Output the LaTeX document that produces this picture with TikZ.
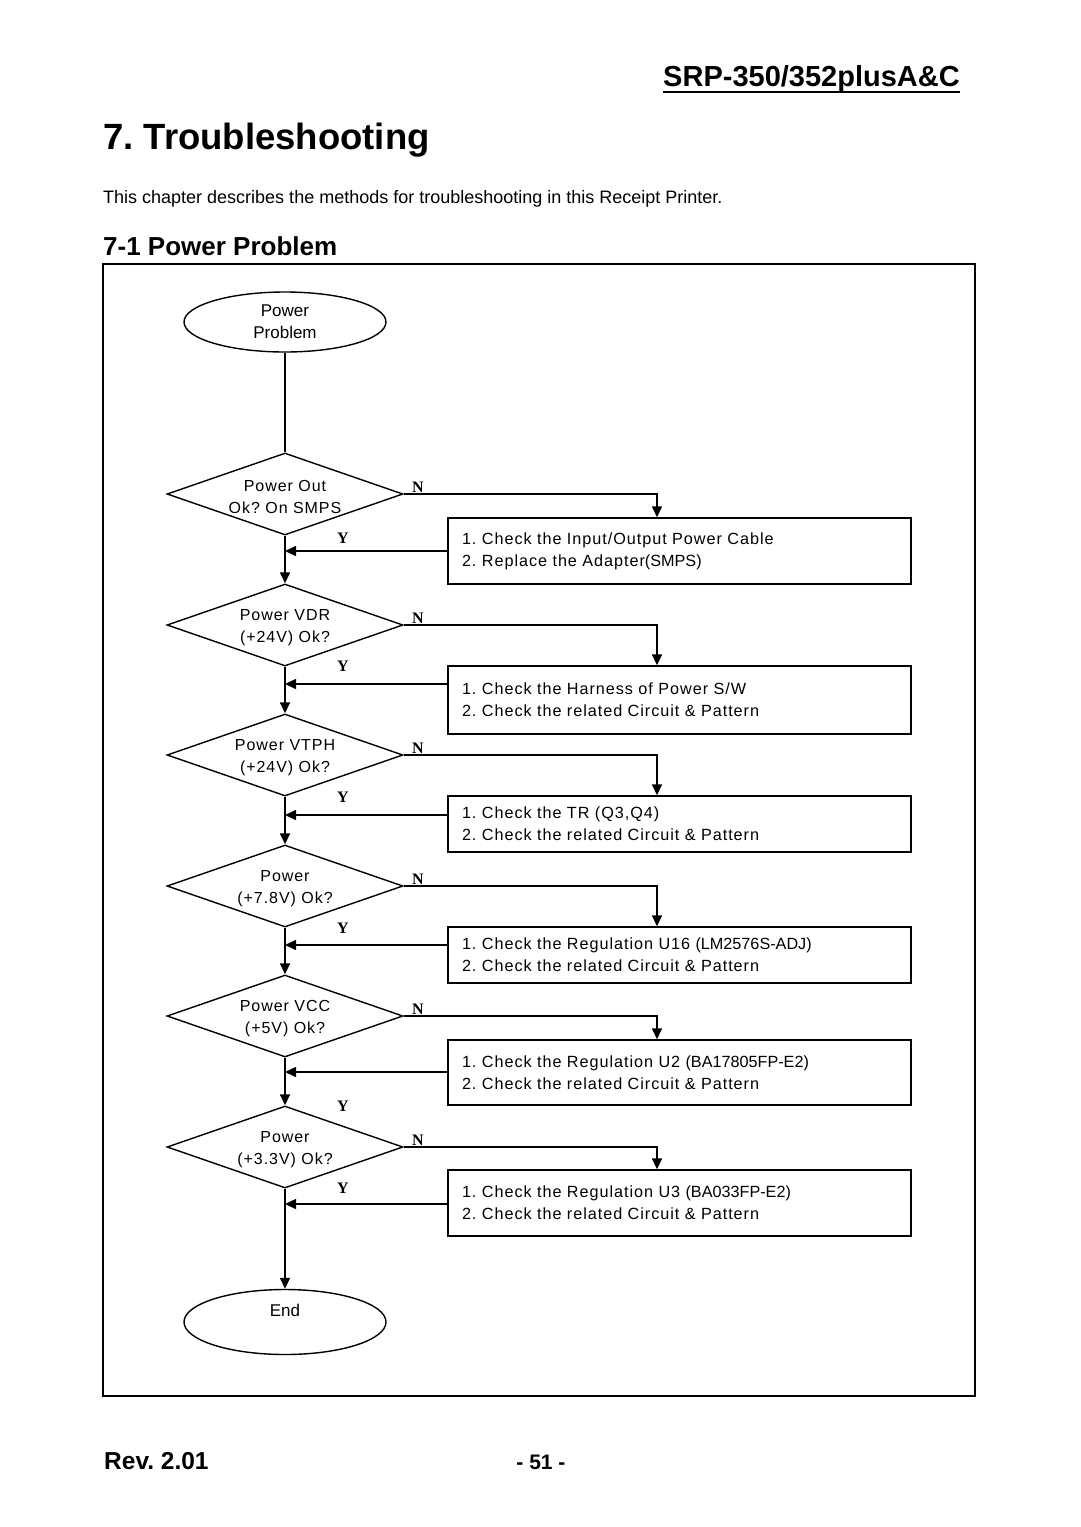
\documentclass[tikz,border=0pt]{standalone}
\usepackage{fontspec}
\setmainfont{Liberation Sans}
\newfontfamily\flowfont[LetterSpace=6]{Liberation Sans}
\newfontfamily\ynfont{Liberation Serif}
\usetikzlibrary{shapes.geometric,arrows.meta}
\newcommand{\tightrun}[1]{{\fontspec{Liberation Sans}#1}}
\frenchspacing
\begin{document}
\frenchspacing
\begin{tikzpicture}[x=1pt,y=-1pt,
  line/.style={line width=1.5pt},
  arr/.style={line width=1.5pt,-{Triangle[length=11pt,width=10pt]}},
  terminal/.style={ellipse,draw,line width=1.4pt,minimum width=202pt,inner sep=0pt,align=center,font=\fontsize{17}{22}\selectfont},
  decision/.style={diamond,draw,line width=1.4pt,minimum width=236pt,minimum height=82pt,inner sep=0pt},
  dtext/.style={inner sep=0pt,align=center,font=\flowfont\fontsize{16}{22}\selectfont},
  actbox/.style={draw,line width=1.4pt,minimum width=463pt,text width=435pt,inner xsep=14pt,inner ysep=0pt,align=left,font=\flowfont\fontsize{16.2}{22}\selectfont},
  yn/.style={inner sep=0pt,anchor=base west,font=\ynfont\bfseries\fontsize{16}{16}\selectfont},
  plain/.style={inner sep=0pt,anchor=base west}
]
\useasboundingbox (0,0) rectangle (1080,1527);
\fill[white] (0,0) rectangle (1080,1527);

% page texts
\node[plain,anchor=base east,font=\bfseries\fontsize{29}{29}\selectfont] (hdr) at (960,86) {SRP-350/352plusA\&C};
\draw[line width=2pt] ([yshift=-5.5pt]hdr.base west) -- ([yshift=-5.5pt]hdr.base east);
\node[plain,font=\bfseries\fontsize{36.5}{36}\selectfont] (title) at (103,149) {7. Troubleshooting};
\node[plain,font=\fontsize{18}{18}\selectfont] (desc) at (103,203) {This chapter describes the methods for troubleshooting in this Receipt Printer.};
\node[plain,font=\bfseries\fontsize{26}{26}\selectfont] (sec) at (103,255) {7-1 Power Problem};
\node[plain,font=\bfseries\fontsize{24.5}{24}\selectfont] (rev) at (104,1469) {Rev. 2.01};
\node[plain,anchor=base,font=\bfseries\fontsize{21}{21}\selectfont] (pg) at (541,1469) {- 51 -};

% frame
\draw[line width=1.4pt] (103,264) rectangle (975,1396);

% flow nodes
\node[terminal,minimum height=60pt] (start) at (285,322) {Power\\Problem};

\node[decision] (d1) at (285,494) {};
\node[decision] (d2) at (285,625) {};
\node[decision] (d3) at (285,755) {};
\node[decision] (d4) at (285,886) {};
\node[decision] (d5) at (285,1016) {};
\node[decision] (d6) at (285,1147) {};

\node[dtext] (t1) at (285,497) {Power Out\\Ok? On SMPS};
\node[dtext] (t2) at (285,628) {Power VDR\\(+24V) Ok?};
\node[dtext] (t3) at (285,758) {Power VTPH\\(+24V) Ok?};
\node[dtext] (t4) at (285,889) {Power\\(+7.8V) Ok?};
\node[dtext] (t5) at (285,1019) {Power VCC\\(+5V) Ok?};
\node[dtext] (t6) at (285,1150) {Power\\(+3.3V) Ok?};

\node[actbox,minimum height=66pt] (b1) at (679.5,551) {1. Check the Input/Output Power Cable\\2. Replace the Adapter\tightrun{(SMPS)}};
\node[actbox,minimum height=68pt] (b2) at (679.5,700) {1. Check the Harness of Power S/W\\2. Check the related Circuit \& Pattern};
\node[actbox,minimum height=56pt] (b3) at (679.5,824) {1. Check the TR (Q3,Q4)\\2. Check the related Circuit \& Pattern};
\node[actbox,minimum height=56pt] (b4) at (679.5,955) {1. Check the Regulation U16 \tightrun{(LM2576S-ADJ)}\\2. Check the related Circuit \& Pattern};
\node[actbox,minimum height=65pt] (b5) at (679.5,1072.5) {1. Check the Regulation U2 \tightrun{(BA17805FP-E2)}\\2. Check the related Circuit \& Pattern};
\node[actbox,minimum height=66pt] (b6) at (679.5,1203) {1. Check the Regulation U3 \tightrun{(BA033FP-E2)}\\2. Check the related Circuit \& Pattern};

\node[terminal,minimum height=65pt] (stop) at (285,1322) {};
\node[inner sep=0pt,font=\fontsize{17}{22}\selectfont] (stopt) at (285,1310) {End};

% helper coordinates
\coordinate (nx) at (657,0);
\coordinate (j1) at (285,551);
\coordinate (j2) at (285,684);
\coordinate (j3) at (285,815);
\coordinate (j4) at (285,945);
\coordinate (j5) at (285,1072);
\coordinate (j6) at (285,1204);

% main spine
\draw[line] (start.south) -- (d1.north);
\draw[arr] (d1.south) -- (d2.north);
\draw[arr] (d2.south) -- (d3.north);
\draw[arr] (d3.south) -- (d4.north);
\draw[arr] (d4.south) -- (d5.north);
\draw[arr] (d5.south) -- (d6.north);
\draw[arr] (d6.south) -- (stop.north);

% N branches
\draw[arr] (d1.east) -| (b1.north -| nx);
\draw[arr] (d2.east) -| (b2.north -| nx);
\draw[arr] (d3.east) -| (b3.north -| nx);
\draw[arr] (d4.east) -| (b4.north -| nx);
\draw[arr] (d5.east) -| (b5.north -| nx);
\draw[arr] (d6.east) -| (b6.north -| nx);

% returns
\draw[arr] (b1.west |- j1) -- (j1);
\draw[arr] (b2.west |- j2) -- (j2);
\draw[arr] (b3.west |- j3) -- (j3);
\draw[arr] (b4.west |- j4) -- (j4);
\draw[arr] (b5.west |- j5) -- (j5);
\draw[arr] (b6.west |- j6) -- (j6);

% labels
\node[yn] (n1) at (412,492) {N};
\node[yn] (n2) at (412,623) {N};
\node[yn] (n3) at (412,753) {N};
\node[yn] (n4) at (412,884) {N};
\node[yn] (n5) at (412,1014) {N};
\node[yn] (n6) at (412,1145) {N};
\node[yn] (y1) at (337,543) {Y};
\node[yn] (y2) at (337,671) {Y};
\node[yn] (y3) at (337,802) {Y};
\node[yn] (y4) at (337,933) {Y};
\node[yn] (y5) at (337,1111) {Y};
\node[yn] (y6) at (337,1193) {Y};
\end{tikzpicture}
\end{document}
